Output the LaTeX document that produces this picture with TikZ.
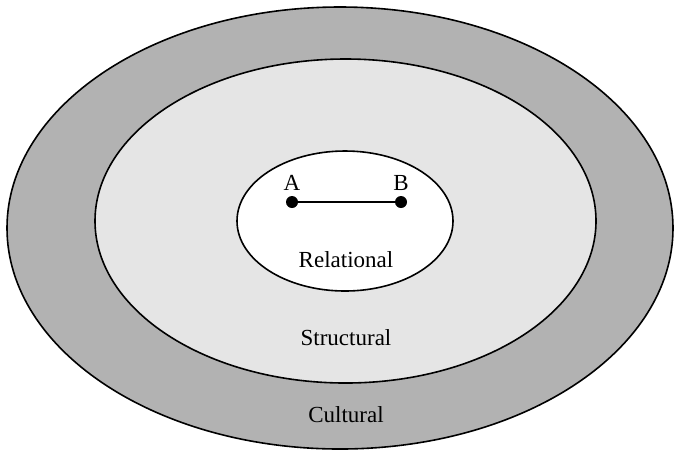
\documentclass[tikz,border=0pt]{standalone}
\usepackage{fontspec}
\setmainfont{Liberation Serif}
\usetikzlibrary{shapes.geometric,positioning}

\begin{document}
\begin{tikzpicture}[
		x=0.5pt, y=-0.5pt,
		basic/.style  = {draw, ellipse, line width=0.8pt, inner sep=0pt, outer sep=0pt},
		cultural/.style   = {basic, fill=black!30, minimum width=333pt, minimum height=221pt},
		structural/.style = {basic, fill=black!10, minimum width=250.5pt, minimum height=162pt},
		relational/.style = {basic, fill=white, minimum width=108pt, minimum height=70pt},
		dot/.style = {circle, fill=black, inner sep=0pt, minimum size=6pt},
		layer/.style = {inner sep=0pt, font=\fontsize{11.5}{14}\selectfont},
		]
		
		\useasboundingbox (0,0) rectangle (674,452);
		
		% Nested layers, outside in
		\node[cultural] (cul) at (340,228) {};
		\node[structural] (str) at (345.5,221) {};
		\node[relational] (rel) at (345,221) {};
		
		% The two actors and their tie
		\node[dot] (a) at (292,202) {};
		\node[dot] (b) at (401,202) {};
		\draw[line width=1pt] (a) -- (b);
		
		\node[layer, above=2.5pt of a] (alabel) {A};
		\node[layer, above=2.5pt of b] (blabel) {B};
		
		% Layer names
		\node[layer] (reltext) at (346,260) {Relational};
		\node[layer] (strtext) at (346,338) {Structural};
		\node[layer] (cultext) at (346,415) {Cultural};
		
	\end{tikzpicture}
\end{document}
